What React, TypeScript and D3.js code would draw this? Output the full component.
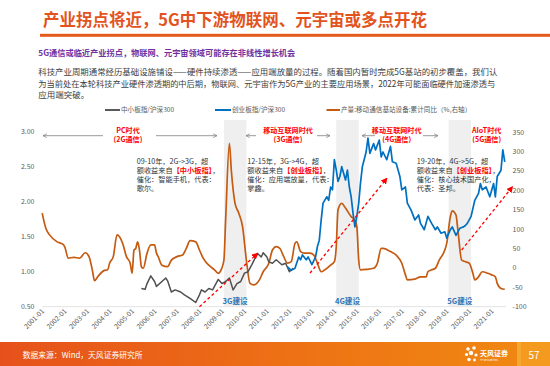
import React from "react";
import * as d3 from "d3";

const FONT = "'Noto Sans CJK SC', 'Noto Sans', sans-serif";

const titleText = "产业拐点将近，5G中下游物联网、元宇宙或多点开花";
const subtitleText = "5G通信或临近产业拐点，物联网、元宇宙领域可能存在非线性增长机会";
const bodyLines = [
  "科技产业周期通常经历基础设施铺设——硬件持续渗透——应用端放量的过程。随着国内暂时完成5G基站的初步覆盖，我们认",
  "为当前处在本轮科技产业硬件渗透期的中后期，物联网、元宇宙作为5G产业的主要应用场景，2022年可能面临硬件加速渗透与",
  "应用端突破。",
];
const sourceText = "数据来源：Wind，天风证券研究所";
const pageNumber = "57";

const legendLabels = ["中小板指/沪深300", "创业板指/沪深300", "产量:移动通信基站设备:累计同比（%,右轴）"];

const xTickLabels = [
  "2001-01", "2002-01", "2003-01", "2004-01", "2005-01", "2006-01", "2007-01",
  "2008-01", "2009-01", "2010-01", "2011-01", "2012-01", "2013-01", "2014-01",
  "2015-01", "2016-01", "2017-01", "2018-01", "2019-01", "2020-01", "2021-01",
];
const leftTicks = [0.5, 1.0, 1.5, 2.0, 2.5, 3.0];
const rightTicks = [-100, -50, 0, 50, 100, 150, 200, 250, 300, 350];

// 中小板指/沪深300 (left axis)
const smallCapSeries: [string, number][] = [
  ["2005-06", 0.76], ["2005-08", 0.75], ["2005-09", 0.83], ["2005-11", 0.94], ["2006-01", 0.86],
  ["2006-02", 0.79], ["2006-05", 0.86], ["2006-07", 0.91], ["2006-08", 0.87], ["2006-10", 0.71],
  ["2006-12", 0.74], ["2007-03", 0.71], ["2007-05", 0.67], ["2007-08", 0.62], ["2007-11", 0.56],
  ["2008-01", 0.67], ["2008-02", 0.74], ["2008-04", 0.71], ["2008-06", 0.76], ["2008-08", 0.74],
  ["2008-09", 0.79], ["2008-11", 0.89], ["2009-01", 0.83], ["2009-03", 0.86], ["2009-05", 0.91],
  ["2009-07", 0.74], ["2009-09", 0.83], ["2009-11", 0.86], ["2010-01", 0.98], ["2010-03", 1.0],
  ["2010-05", 1.1], ["2010-07", 1.21], ["2010-08", 1.26], ["2010-10", 1.21], ["2010-11", 1.27],
  ["2011-01", 1.21], ["2011-02", 1.14], ["2011-04", 1.12], ["2011-06", 1.17], ["2011-09", 1.1],
  ["2011-11", 1.12], ["2012-01", 1.0], ["2012-03", 1.05],
];

// 创业板指/沪深300 (left axis)
const chinextSeries: [string, number][] = [
  ["2011-12", 1.07], ["2012-02", 1.02], ["2012-04", 1.05], ["2012-06", 1.21], ["2012-07", 1.17],
  ["2012-08", 1.24], ["2012-10", 1.17], ["2012-11", 1.21], ["2013-01", 1.1], ["2013-03", 1.21],
  ["2013-04", 1.36], ["2013-05", 1.45], ["2013-06", 1.74], ["2013-07", 1.98], ["2013-09", 2.07],
  ["2013-10", 2.02], ["2013-11", 2.21], ["2013-12", 2.17], ["2014-01", 2.6], ["2014-02", 2.45],
  ["2014-03", 2.29], ["2014-04", 2.36], ["2014-05", 2.5], ["2014-07", 2.31], ["2014-08", 2.45],
  ["2014-09", 2.21], ["2014-10", 2.07], ["2014-11", 1.83], ["2014-12", 1.64], ["2015-01", 1.79],
  ["2015-02", 1.98], ["2015-03", 2.26], ["2015-04", 2.5], ["2015-06", 2.71], ["2015-07", 2.91],
  ["2015-08", 2.69], ["2015-10", 2.83], ["2015-11", 2.74], ["2016-01", 2.88], ["2016-02", 2.64],
  ["2016-03", 2.71], ["2016-05", 2.6], ["2016-07", 2.79], ["2016-08", 2.57], ["2016-10", 2.55],
  ["2016-12", 2.36], ["2017-01", 2.17], ["2017-03", 2.21], ["2017-04", 1.98], ["2017-06", 1.88],
  ["2017-08", 1.74], ["2017-10", 1.81], ["2017-11", 1.69], ["2018-01", 1.6], ["2018-03", 1.79],
  ["2018-05", 1.69], ["2018-07", 1.6], ["2018-08", 1.64], ["2018-10", 1.55], ["2018-12", 1.57],
  ["2019-01", 1.48], ["2019-03", 1.6], ["2019-04", 1.64], ["2019-06", 1.52], ["2019-08", 1.62],
  ["2019-10", 1.64], ["2019-11", 1.66], ["2019-12", 1.69], ["2020-02", 1.79], ["2020-04", 2.02],
  ["2020-06", 2.12], ["2020-07", 2.26], ["2020-08", 2.17], ["2020-10", 2.21], ["2020-12", 2.07],
  ["2021-02", 2.26], ["2021-03", 2.07], ["2021-04", 2.36], ["2021-06", 2.45], ["2021-07", 2.74],
  ["2021-08", 2.57],
];

// 产量:移动通信基站设备:累计同比 (%, right axis)
const baseStationSeries: [string, number][] = [
  ["2001-01", 141], ["2001-03", 102], ["2001-05", 85], ["2001-09", 67], ["2001-12", 61],
  ["2002-01", 55], ["2002-03", 25], ["2002-06", 27], ["2002-09", 25], ["2002-12", 39],
  ["2003-02", 29], ["2003-04", -10], ["2003-05", -33], ["2003-07", -21], ["2003-10", -7],
  ["2003-12", -5], ["2004-01", 12], ["2004-03", 29], ["2004-05", 85], ["2004-08", 63],
  ["2004-10", 29], ["2004-12", 12], ["2005-01", -14], ["2005-02", 46], ["2005-03", 50],
  ["2005-04", 67], ["2005-05", 46], ["2005-06", 3], ["2005-07", -1], ["2005-09", 38],
  ["2005-11", 59], ["2006-01", 59], ["2006-02", 38], ["2006-03", 29], ["2006-05", 7],
  ["2006-08", 3], ["2006-10", 20], ["2007-01", 29], ["2007-04", 33], ["2007-06", 50],
  ["2007-08", 70], ["2007-11", 67], ["2008-01", 46], ["2008-03", 25], ["2008-06", 7],
  ["2008-09", -5], ["2008-11", -14], ["2008-12", -10], ["2009-02", 20], ["2009-03", 123],
  ["2009-05", 321], ["2009-06", 252], ["2009-08", 166], ["2009-10", 141], ["2009-12", 106],
  ["2010-02", 20], ["2010-04", -40], ["2010-06", -44], ["2010-09", -31], ["2010-11", -10],
  ["2011-02", 12], ["2011-04", 46], ["2011-06", 55], ["2011-08", 50], ["2011-10", 29],
  ["2011-12", 12], ["2012-02", 16], ["2012-04", 63], ["2012-05", 67], ["2012-07", 42],
  ["2012-09", 38], ["2012-12", 38], ["2013-02", 33], ["2013-04", 12], ["2013-06", -10],
  ["2013-08", -5], ["2013-11", 7], ["2014-01", 16], ["2014-02", 55], ["2014-03", 149],
  ["2014-05", 166], ["2014-07", 154], ["2014-10", 132], ["2014-12", 123], ["2015-01", 106],
  ["2015-02", 20], ["2015-03", -5], ["2015-06", -4], ["2015-10", -1], ["2015-12", 12],
  ["2016-02", 50], ["2016-03", 50], ["2016-07", 42], ["2016-10", 33], ["2017-01", 12],
  ["2017-03", -18], ["2017-04", -31], ["2017-08", -29], ["2017-11", -23], ["2018-02", -23],
  ["2018-03", -10], ["2018-05", -5], ["2018-07", -1], ["2018-09", 20], ["2018-12", 46],
  ["2019-01", 63], ["2019-03", 132], ["2019-04", 147], ["2019-06", 136], ["2019-07", 98],
  ["2019-09", 20], ["2019-11", 16], ["2020-01", 12], ["2020-03", -14], ["2020-04", -31],
  ["2020-06", -23], ["2020-08", -10], ["2020-11", -14], ["2021-01", -18], ["2021-03", -23],
  ["2021-04", -40], ["2021-06", -53], ["2021-08", -55],
];

const buildPhases = [
  { start: "2009-02", end: "2010-02", label: "3G建设" },
  { start: "2014-02", end: "2015-02", label: "4G建设" },
  { start: "2019-02", end: "2020-02", label: "5G建设" },
];

// red dashed trend arrows (left axis units)
const trendArrows: [[string, number], [string, number]][] = [
  [["2008-01", 0.5], ["2010-08", 1.26]],
  [["2012-12", 0.98], ["2016-05", 2.33]],
  [["2019-09", 1.31], ["2021-12", 2.21]],
];

const eraLabels = [
  { title: "PC时代", sub: "(2G通信)" },
  { title: "移动互联网时代", sub: "(3G通信)" },
  { title: "移动互联网时代", sub: "(4G通信)" },
  { title: "AIoT时代", sub: "(5G通信)" },
];

const notes = [
  ["09-10年，2G->3G，超", "额收益来自【中小板指】，", "催化：智能手机，代表：", "歌尔。"],
  ["12-15年，3G->4G，超", "额收益来自【创业板指】，", "催化：应用端放量，代表：", "掌趣。"],
  ["19-20年，4G->5G，超", "额收益来自【创业板指】，", "催化：核心技术国产化，", "代表：圣邦。"],
];

function rich(s: string) {
  return s.split(/(【[^】]*】)/).filter((p) => p.length).map((p, i) =>
    p.startsWith("【") ? (
      <tspan key={i} fill="#ff0000" fontWeight="bold">{p}</tspan>
    ) : (
      <tspan key={i}>{p}</tspan>
    )
  );
}

export default function App() {
  const parse = d3.timeParse("%Y-%m");
  const pd = (s: string) => parse(s) as Date;
  const x = d3.scaleTime().domain([pd("2001-01"), pd("2021-01")]).range([42.2, 491.7]);
  const yL = d3.scaleLinear().domain([0.5, 3]).range([306.7, 131.7]);
  const yR = d3.scaleLinear().domain([-100, 350]).range([306.7, 132]);

  const lineL = d3.line<[string, number]>().x((d) => x(pd(d[0]))).y((d) => yL(d[1]));
  const lineR = d3
    .line<[string, number]>()
    .x((d) => x(pd(d[0])))
    .y((d) => yR(d[1]))
    .curve(d3.curveMonotoneX);

  const plotLeft = 42.2;
  const plotRight = 506;
  const baseY = yL(0.5);
  const bandTop = 120;

  const eraX = [128, 288, 396.7, 486.7];
  const noteX = [136.7, 247.3, 416.7];

  const grayArrows: [number, number][] = [
    [103, 43], [156, 217], [256, 246], [317, 330], [375, 362], [423, 438],
  ];

  return (
    <svg
      width={550}
      height={366}
      viewBox="0 0 550 366"
      style={{ position: "absolute", left: 0, top: 0, background: "#fff" }}
      fontFamily={FONT}
    >
      <defs>
        <marker id="redHead" viewBox="0 0 10 10" refX="8" refY="5" markerWidth="5" markerHeight="5" orient="auto">
          <path d="M0,0 L10,5 L0,10 z" fill="#ff0000" />
        </marker>
        <marker id="grayHead" viewBox="0 0 10 10" refX="9" refY="5" markerWidth="6" markerHeight="6" orient="auto">
          <path d="M1,1 L9,5 L1,9" fill="none" stroke="#808080" strokeWidth="1.5" />
        </marker>
        <linearGradient id="footGrad" x1="0" x2="1" y1="0" y2="0">
          <stop offset="0" stopColor="#e6511b" />
          <stop offset="0.6" stopColor="#ee7514" />
          <stop offset="1" stopColor="#f08a12" />
        </linearGradient>
      </defs>

      {/* header */}
      <text x={43} y={25.5} fontSize={16.5} fontWeight="bold" fill="#e2531d" textLength={384} lengthAdjust="spacingAndGlyphs">
        {titleText}
      </text>
      <rect x={40} y={33.8} width={510} height={3} fill="#e35a1c" />
      <text x={38.3} y={55.5} fontSize={8.3} fontWeight="bold" fill="#7030a0" textLength={257} lengthAdjust="spacingAndGlyphs">
        {subtitleText}
      </text>
      <text x={38.3} y={75} fontSize={8.5} fill="#404040" textLength={459} lengthAdjust="spacingAndGlyphs">
        {bodyLines[0]}
      </text>
      <text x={38.3} y={86.6} fontSize={8.5} fill="#404040" textLength={457} lengthAdjust="spacingAndGlyphs">
        {bodyLines[1]}
      </text>
      <text x={38.3} y={98.2} fontSize={8.5} fill="#404040">
        {bodyLines[2]}
      </text>

      {/* legend */}
      <g fontSize={6.6} fill="#595959">
        <line x1={105} x2={120} y1={110} y2={110} stroke="#595959" strokeWidth={2} />
        <text x={121} y={112.4}>{legendLabels[0]}</text>
        <line x1={215} x2={231} y1={110} y2={110} stroke="#0070c0" strokeWidth={2} />
        <text x={232} y={112.4}>{legendLabels[1]}</text>
        <line x1={326.5} x2={340} y1={110} y2={110} stroke="#c55a11" strokeWidth={2} />
        <text x={341} y={112.4}>{legendLabels[2]}</text>
      </g>

      {/* build bands */}
      {buildPhases.map((b, i) => (
        <rect key={i} x={x(pd(b.start))} y={bandTop} width={x(pd(b.end)) - x(pd(b.start))} height={baseY - bandTop} fill="#efefef" />
      ))}

      {/* axis baseline */}
      <line x1={plotLeft} x2={plotRight} y1={baseY} y2={baseY} stroke="#e3e3e3" strokeWidth={1} />

      {/* left axis labels */}
      <g fontSize={7} fill="#595959" textAnchor="end">
        {leftTicks.map((t) => (
          <text key={t} x={34.5} y={yL(t) + 2.5}>{t.toFixed(2)}</text>
        ))}
      </g>
      {/* right axis labels */}
      <g fontSize={7} fill="#595959" textAnchor="start">
        {rightTicks.map((t) => (
          <text key={t} x={512.5} y={yR(t) + 2.5}>{t}</text>
        ))}
      </g>
      {/* x labels */}
      <g fontSize={6.8} fill="#595959" textAnchor="end">
        {xTickLabels.map((l) => {
          const xx = x(pd(l));
          return (
            <text key={l} transform={`translate(${xx + 2.5},${baseY + 5}) rotate(-45)`}>{l}</text>
          );
        })}
      </g>

      {/* series */}
      <path d={lineR(baseStationSeries) || ""} fill="none" stroke="#c55a11" strokeWidth={1.7} strokeLinejoin="round" />
      <path d={lineL(smallCapSeries) || ""} fill="none" stroke="#505050" strokeWidth={1.5} strokeLinejoin="round" />
      <path d={lineL(chinextSeries) || ""} fill="none" stroke="#0070c0" strokeWidth={1.7} strokeLinejoin="round" />

      {/* build labels */}
      {buildPhases.map((b, i) => (
        <text key={i} x={(x(pd(b.start)) + x(pd(b.end))) / 2} y={303.5} fontSize={7.6} fontWeight="bold" fill="#2e75b6" textAnchor="middle">
          {b.label}
        </text>
      ))}

      {/* trend arrows */}
      {trendArrows.map((a, i) => (
        <line
          key={i}
          x1={x(pd(a[0][0]))}
          y1={yL(a[0][1])}
          x2={x(pd(a[1][0]))}
          y2={yL(a[1][1])}
          stroke="#ff0000"
          strokeWidth={1.3}
          strokeDasharray="3,2.5"
          markerEnd="url(#redHead)"
        />
      ))}

      {/* era labels */}
      {eraLabels.map((e, i) => (
        <g key={i} fontSize={7.1} fontWeight="bold" fill="#ff0000" textAnchor="middle">
          <text x={eraX[i]} y={132.6}>{e.title}</text>
          <text x={eraX[i]} y={142.4}>{e.sub}</text>
        </g>
      ))}
      {grayArrows.map((a, i) => (
        <line key={i} x1={a[0]} x2={a[1]} y1={135.7} y2={135.7} stroke="#808080" strokeWidth={0.8} markerEnd="url(#grayHead)" />
      ))}

      {/* notes */}
      {notes.map((lines, i) => (
        <g key={i} fontSize={7.2} fill="#333333">
          {lines.map((l, j) => (
            <text key={j} x={noteX[i]} y={164.3 + j * 9.0}>{rich(l)}</text>
          ))}
        </g>
      ))}

      {/* footer */}
      <rect x={0} y={342} width={550} height={24} fill="url(#footGrad)" />
      <rect x={517} y={342} width={33} height={24} fill="#f39a1f" />
      <rect x={517} y={342} width={4} height={24} fill="#f7b13a" opacity={0.6} />
      <text x={22.7} y={357.5} fontSize={7.8} fill="#ffffff">{sourceText}</text>
      <g fill="#ffffff">
        <circle cx={468} cy={349} r={1.8} />
        <circle cx={474} cy={348} r={1.8} />
        <circle cx={466.5} cy={354.5} r={1.6} />
        <circle cx={471} cy={353} r={2.2} />
        <circle cx={476} cy={355} r={1.6} />
        <circle cx={469} cy={359.5} r={1.8} />
        <circle cx={474.5} cy={360} r={1.4} />
        <text x={480} y={355.5} fontSize={7} fontWeight="bold">天风证券</text>
        <text x={480} y={360.5} fontSize={2.6}>TF SECURITIES</text>
      </g>
      <text x={534} y={358.5} fontSize={10} fill="#ffffff" textAnchor="middle">{pageNumber}</text>
    </svg>
  );
}
